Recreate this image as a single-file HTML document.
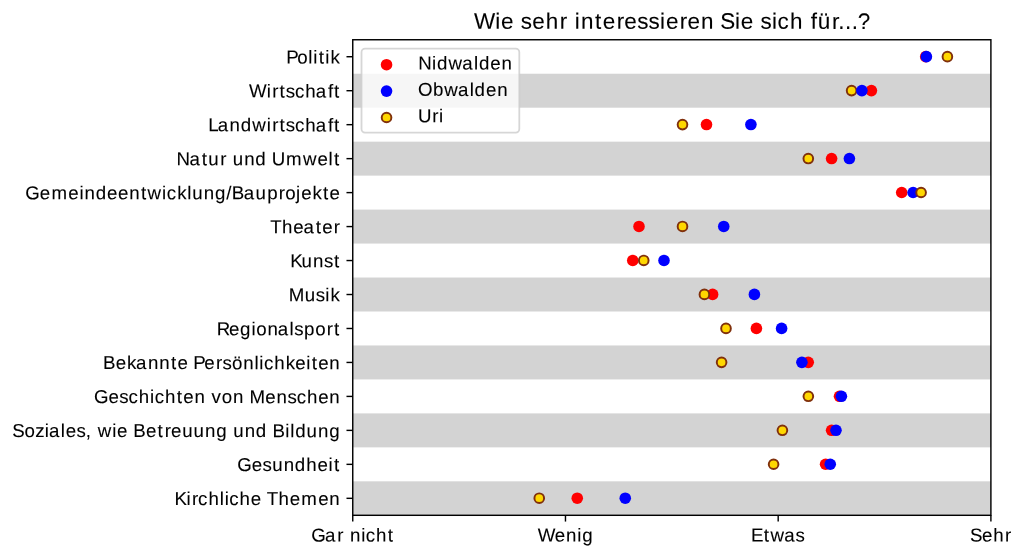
<!DOCTYPE html>
<html lang="de">
<head>
<meta charset="utf-8">
<title>Wie sehr interessieren Sie sich für...?</title>
<style>
html,body{margin:0;padding:0;background:#ffffff;}
body{width:1024px;height:558px;overflow:hidden;}
svg{display:block;will-change:transform;}
text{font-family:"Liberation Sans",sans-serif;fill:#000000;stroke:#000000;stroke-width:0.09px;}
.t{font-size:18.70px;}
.h{font-size:22.44px;}
</style>
</head>
<body>
<svg width="1024" height="558" viewBox="0 0 1024 558">
<rect x="0" y="0" width="1024" height="558" fill="#ffffff"/>
<g fill="#d3d3d3">
<rect x="352.75" y="73.72" width="638.15" height="33.97"/>
<rect x="352.75" y="141.65" width="638.15" height="33.97"/>
<rect x="352.75" y="209.59" width="638.15" height="33.97"/>
<rect x="352.75" y="277.52" width="638.15" height="33.97"/>
<rect x="352.75" y="345.46" width="638.15" height="33.97"/>
<rect x="352.75" y="413.40" width="638.15" height="33.97"/>
<rect x="352.75" y="481.33" width="638.15" height="33.97"/>
</g>
<g>
<circle cx="925.70" cy="56.63" r="5.8" fill="#ff0000"/>
<circle cx="926.40" cy="56.63" r="5.8" fill="#0000ff"/>
<circle cx="947.40" cy="56.63" r="4.83" fill="#ffd700" stroke="#80300c" stroke-width="1.95"/>
<circle cx="851.60" cy="90.60" r="4.83" fill="#ffd700" stroke="#80300c" stroke-width="1.95"/>
<circle cx="871.40" cy="90.60" r="5.8" fill="#ff0000"/>
<circle cx="861.90" cy="90.60" r="5.8" fill="#0000ff"/>
<circle cx="706.50" cy="124.57" r="5.8" fill="#ff0000"/>
<circle cx="750.90" cy="124.57" r="5.8" fill="#0000ff"/>
<circle cx="682.50" cy="124.57" r="4.83" fill="#ffd700" stroke="#80300c" stroke-width="1.95"/>
<circle cx="831.60" cy="158.54" r="5.8" fill="#ff0000"/>
<circle cx="849.40" cy="158.54" r="5.8" fill="#0000ff"/>
<circle cx="808.30" cy="158.54" r="4.83" fill="#ffd700" stroke="#80300c" stroke-width="1.95"/>
<circle cx="901.70" cy="192.51" r="5.8" fill="#ff0000"/>
<circle cx="913.10" cy="192.51" r="5.8" fill="#0000ff"/>
<circle cx="921.10" cy="192.51" r="4.83" fill="#ffd700" stroke="#80300c" stroke-width="1.95"/>
<circle cx="639.00" cy="226.47" r="5.8" fill="#ff0000"/>
<circle cx="723.75" cy="226.47" r="5.8" fill="#0000ff"/>
<circle cx="682.50" cy="226.47" r="4.83" fill="#ffd700" stroke="#80300c" stroke-width="1.95"/>
<circle cx="632.75" cy="260.44" r="5.8" fill="#ff0000"/>
<circle cx="664.00" cy="260.44" r="5.8" fill="#0000ff"/>
<circle cx="643.75" cy="260.44" r="4.83" fill="#ffd700" stroke="#80300c" stroke-width="1.95"/>
<circle cx="712.60" cy="294.41" r="5.8" fill="#ff0000"/>
<circle cx="754.40" cy="294.41" r="5.8" fill="#0000ff"/>
<circle cx="704.40" cy="294.41" r="4.83" fill="#ffd700" stroke="#80300c" stroke-width="1.95"/>
<circle cx="756.40" cy="328.38" r="5.8" fill="#ff0000"/>
<circle cx="781.60" cy="328.38" r="5.8" fill="#0000ff"/>
<circle cx="726.00" cy="328.38" r="4.83" fill="#ffd700" stroke="#80300c" stroke-width="1.95"/>
<circle cx="808.25" cy="362.34" r="5.8" fill="#ff0000"/>
<circle cx="801.90" cy="362.34" r="5.8" fill="#0000ff"/>
<circle cx="721.60" cy="362.34" r="4.83" fill="#ffd700" stroke="#80300c" stroke-width="1.95"/>
<circle cx="839.50" cy="396.31" r="5.8" fill="#ff0000"/>
<circle cx="841.40" cy="396.31" r="5.8" fill="#0000ff"/>
<circle cx="808.35" cy="396.31" r="4.83" fill="#ffd700" stroke="#80300c" stroke-width="1.95"/>
<circle cx="831.60" cy="430.28" r="5.8" fill="#ff0000"/>
<circle cx="836.00" cy="430.28" r="5.8" fill="#0000ff"/>
<circle cx="782.40" cy="430.28" r="4.83" fill="#ffd700" stroke="#80300c" stroke-width="1.95"/>
<circle cx="825.60" cy="464.25" r="5.8" fill="#ff0000"/>
<circle cx="830.25" cy="464.25" r="5.8" fill="#0000ff"/>
<circle cx="773.60" cy="464.25" r="4.83" fill="#ffd700" stroke="#80300c" stroke-width="1.95"/>
<circle cx="577.25" cy="498.22" r="5.8" fill="#ff0000"/>
<circle cx="625.25" cy="498.22" r="5.8" fill="#0000ff"/>
<circle cx="539.25" cy="498.22" r="4.83" fill="#ffd700" stroke="#80300c" stroke-width="1.95"/>
</g>
<g stroke="#000000" stroke-width="1.43" fill="none">
<line x1="346.48" y1="56.73" x2="352.75" y2="56.73"/>
<line x1="346.48" y1="90.70" x2="352.75" y2="90.70"/>
<line x1="346.48" y1="124.67" x2="352.75" y2="124.67"/>
<line x1="346.48" y1="158.64" x2="352.75" y2="158.64"/>
<line x1="346.48" y1="192.61" x2="352.75" y2="192.61"/>
<line x1="346.48" y1="226.57" x2="352.75" y2="226.57"/>
<line x1="346.48" y1="260.54" x2="352.75" y2="260.54"/>
<line x1="346.48" y1="294.51" x2="352.75" y2="294.51"/>
<line x1="346.48" y1="328.48" x2="352.75" y2="328.48"/>
<line x1="346.48" y1="362.44" x2="352.75" y2="362.44"/>
<line x1="346.48" y1="396.41" x2="352.75" y2="396.41"/>
<line x1="346.48" y1="430.38" x2="352.75" y2="430.38"/>
<line x1="346.48" y1="464.35" x2="352.75" y2="464.35"/>
<line x1="346.48" y1="498.32" x2="352.75" y2="498.32"/>
<line x1="352.75" y1="515.30" x2="352.75" y2="521.57"/>
<line x1="565.47" y1="515.30" x2="565.47" y2="521.57"/>
<line x1="778.18" y1="515.30" x2="778.18" y2="521.57"/>
<line x1="990.90" y1="515.30" x2="990.90" y2="521.57"/>
<rect x="352.75" y="39.75" width="638.15" height="475.55"/>
</g>
<rect x="361.5" y="48.7" width="157.80" height="83.90" rx="3.6" ry="3.6" fill="#ffffff" fill-opacity="0.8" stroke="#cccccc" stroke-opacity="0.8" stroke-width="1.79"/>
<circle cx="386.55" cy="64.70" r="5.8" fill="#ff0000"/>
<circle cx="386.55" cy="91.10" r="5.8" fill="#0000ff"/>
<circle cx="386.55" cy="117.50" r="4.83" fill="#ffd700" stroke="#80300c" stroke-width="1.95"/>
<text class="t" x="418.14 432.01 436.94 448.49 462.19 473.95 478.89 490.22 501.41" y="69.50" transform="rotate(0.03 465.3 69.5)">Nidwalden</text>
<text class="t" x="417.98 432.89 444.22 457.91 469.68 474.62 485.95 497.13" y="95.90" transform="rotate(0.03 462.8 95.9)">Obwalden</text>
<text class="t" x="418 432.22 439.08" y="122.20" transform="rotate(0.03 430.9 122.2)">Uri</text>
<text class="t" x="286.25 297.23 308.31 313.29 318.71 325.29 330.49" y="63.43" transform="rotate(0.03 314.4 63.4)">Politik</text>
<text class="t" x="249.07 266.78 272.25 279.56 285.83 295.08 305.37 315.84 327.99 334.06" y="97.40" transform="rotate(0.03 294.7 97.4)">Wirtschaft</text>
<text class="t" x="208.22 217.65 229.52 240.73 252.28 266.78 272.25 279.56 285.83 295.08 305.37 315.84 327.99 334.05" y="131.37" transform="rotate(0.03 274.8 131.4)">Landwirtschaft</text>
<text class="t" x="176.42 189.49 201.71 208.3 220.13 226.58 232.7 244.13 255.33 266.32 271.81 286.1 303.12 317.54 328.62 334.05" y="165.34" transform="rotate(0.03 259.0 165.3)">Natur und Umwelt</text>
<text class="t" x="25.28 39.84 51.49 68.29 79.38 84.45 95.66 106.99 118.01 129.19 140.89 147.6 162.1 166.69 177.15 187.28 192.28 203.7 214.91 226.32 231.81 243.83 255.62 267.13 278.81 285.15 296.09 301.14 312.46 323.04 329.54" y="199.31" transform="rotate(0.03 182.9 199.3)">Gemeindeentwicklung/Bauprojekte</text>
<text class="t" x="270.31 281.97 293.17 303.46 315.68 322.18 333.76" y="233.27" transform="rotate(0.03 305.4 233.3)">Theater</text>
<text class="t" x="290.36 301.6 313.03 323.98 334.06" y="267.24" transform="rotate(0.03 315.9 267.2)">Kunst</text>
<text class="t" x="288.69 304.63 315.65 325.29 330.49" y="301.21" transform="rotate(0.03 315.3 301.2)">Musik</text>
<text class="t" x="216.71 228.93 239.97 251.38 256.22 267.41 277.85 289.62 294.3 304.11 315.16 326.74 334.06" y="335.18" transform="rotate(0.03 279.2 335.2)">Regionalsport</text>
<text class="t" x="102.95 115.7 127.02 136.03 147.9 159.25 170.95 177.45 188.12 193.27 204.31 215.9 222.46 231.95 243.14 254.38 259.36 263.95 274.25 285.76 295.18 306.27 311.69 318.19 329.37" y="369.14" transform="rotate(0.03 221.8 369.1)">Bekannte Persönlichkeiten</text>
<text class="t" x="93.96 108.51 119.3 128.55 138.84 150.12 154.71 165 176.73 183.23 194.41 205.25 211.56 221.81 233 243.83 249.46 265.31 276.5 287.44 296.69 306.98 318.19 329.37" y="403.11" transform="rotate(0.03 217.0 403.1)">Geschichten von Menschen</text>
<text class="t" x="12.28 24.38 35.16 44.87 49.04 60.81 65.71 76.5 85.78 91.4 97.65 112.15 117.05 127.72 133.29 146.04 157.58 164.65 171.04 182.15 193.49 204.92 216.13 227.12 233.24 244.67 255.87 266.87 272.43 285.26 290.22 295.16 306.59 318.01 329.22" y="437.08" transform="rotate(0.03 176.3 437.1)">Soziales, wie Betreuung und Bildung</text>
<text class="t" x="237.24 251.8 262.58 272.23 283.66 294.86 306.34 317.54 328.63 334.06" y="471.05" transform="rotate(0.03 289.2 471.0)">Gesundheit</text>
<text class="t" x="174.43 186.56 192.02 198.11 208.41 219.68 224.66 229.25 239.54 250.75 261.42 266.87 278.53 289.74 301.39 318.19 329.37" y="505.02" transform="rotate(0.03 257.4 505.0)">Kirchliche Themen</text>
<text class="t" x="311.2 325.02 337.29 343.74 349.94 361.2 365.79 376.08 387.81" y="541.50" transform="rotate(0.03 353.0 541.5)">Gar nicht</text>
<text class="t" x="537.81 554.79 565.97 577.22 582.15" y="541.50" transform="rotate(0.03 565.0 541.5)">Wenig</text>
<text class="t" x="750.91 763.72 770.44 784.13 795.61" y="541.50" transform="rotate(0.03 778.6 541.5)">Etwas</text>
<text class="t" x="969.9 982.06 993.22 1005" y="541.50" transform="rotate(0.03 991.5 541.5)">Sehr</text>
<text class="h" x="473.91 495.16 501.04 513.84 520.81 532.28 545.66 559.8 567.53 574.86 580.94 594.98 602.78 616.68 624.36 637.3 648.49 660.05 665.93 679.83 687.51 700.93 713.93 720.21 734.9 740.78 753.58 760.55 772.11 777.62 789.97 803 810.77 817.85 832.11 838.16 844.99 851.82 857.8" y="28.80" transform="rotate(0.03 671.4 28.8)">Wie sehr interessieren Sie sich für...?</text>
</svg>
</body>
</html>
